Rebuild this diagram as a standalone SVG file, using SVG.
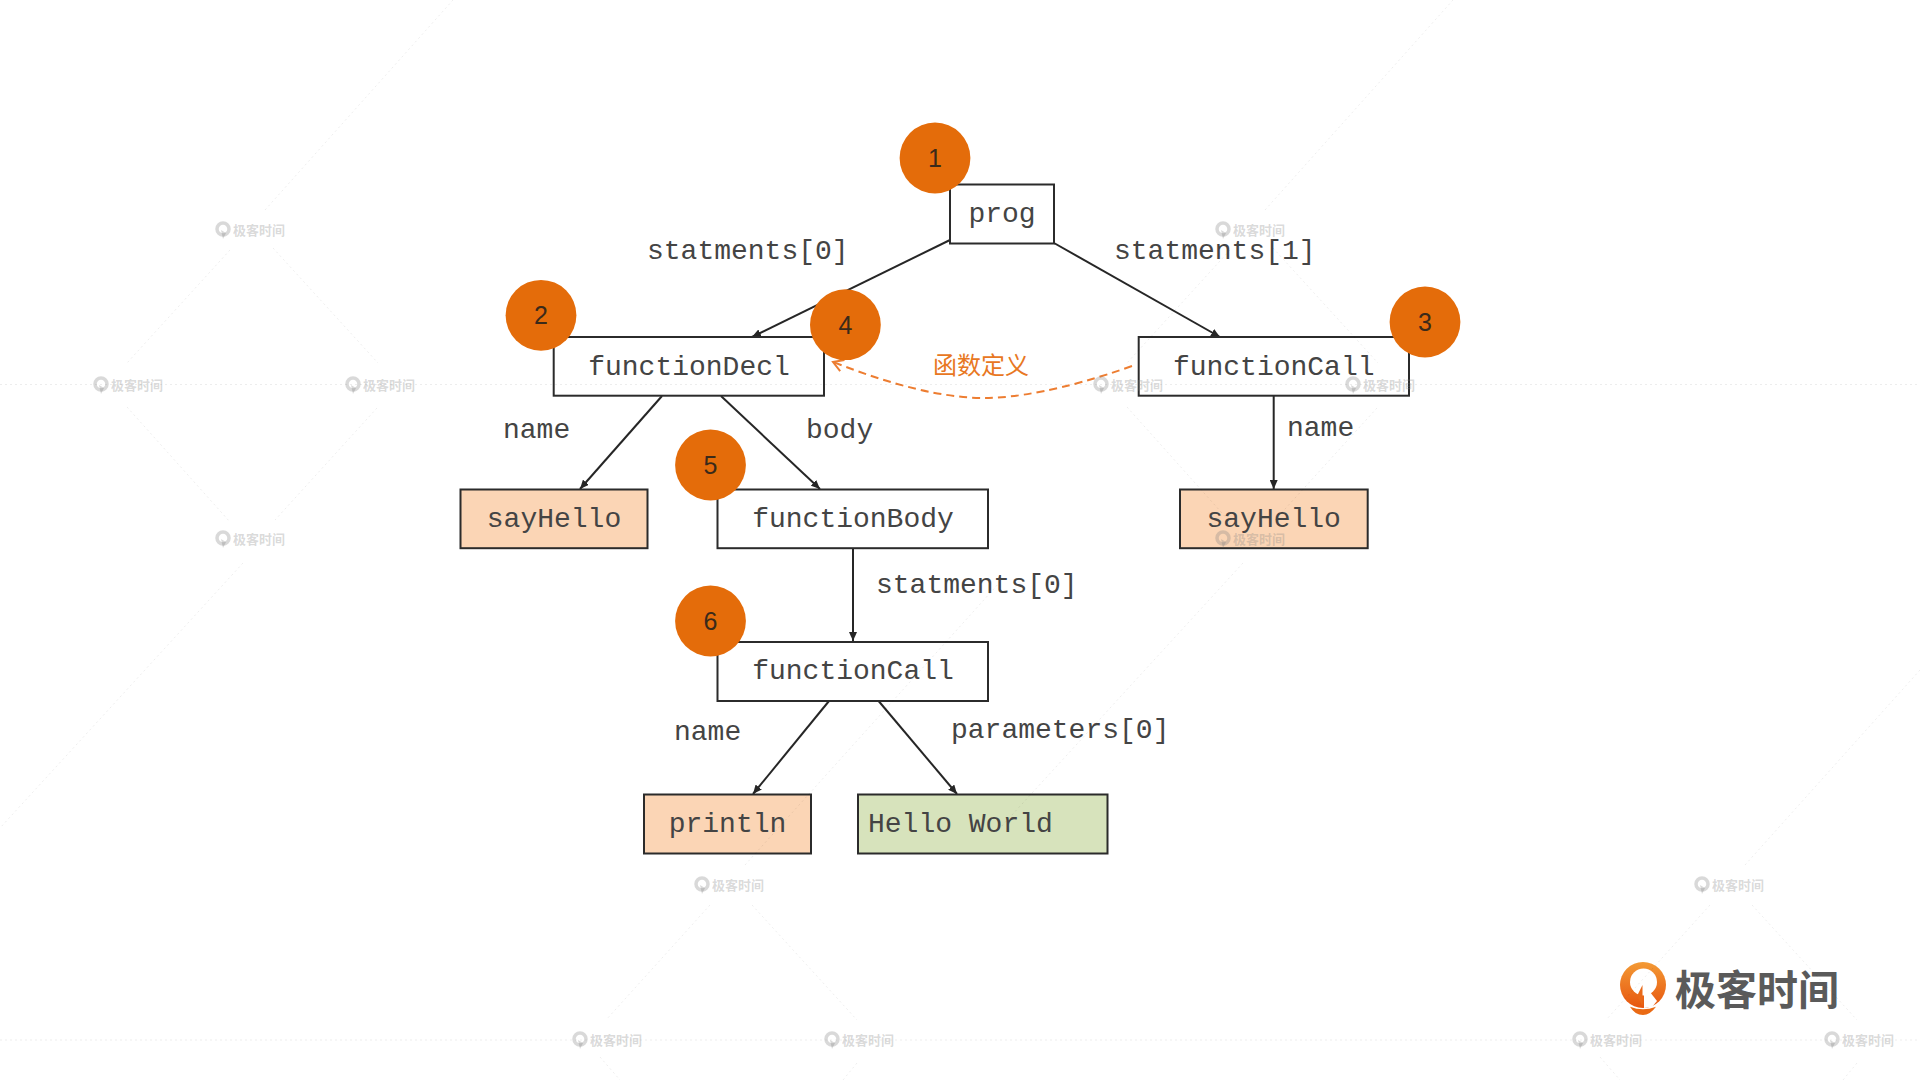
<svg xmlns="http://www.w3.org/2000/svg" width="1920" height="1080" viewBox="0 0 1920 1080">
<style>
.box{stroke:#2b2b2b;stroke-width:2;fill:#fff}
.peach{fill:#fbd5b5}
.green{fill:#d7e3bc}
.t{font-family:"Liberation Mono","Courier New",monospace;font-size:28px;fill:#444}
.m{text-anchor:middle}
.num{font-family:"Liberation Sans",Arial,sans-serif;font-size:25px;fill:#3a2a1a;text-anchor:middle}
.dot{fill:#e46c0a}
.edge{stroke:#262626;stroke-width:2;fill:none;marker-end:url(#arrow)}
.wl{stroke:#000;stroke-opacity:.07;stroke-width:1;stroke-dasharray:2 3;fill:none}
.wt{font-family:"Noto Sans CJK SC",sans-serif;font-size:13px;font-weight:700;fill:#808080;fill-opacity:.3}
.wp{fill:none;stroke:#808080;stroke-opacity:.3;stroke-width:3.5}
</style>
<defs>
<marker id="arrow" markerUnits="userSpaceOnUse" markerWidth="10" markerHeight="8" refX="9" refY="4" orient="auto"><path d="M0 0L9 4L0 8z" fill="#262626"/></marker>
<marker id="open" markerUnits="userSpaceOnUse" markerWidth="14" markerHeight="14" refX="12" refY="7" orient="auto"><path d="M2 1L12 7L2 13" fill="none" stroke="#ed7d31" stroke-width="2"/></marker>
<linearGradient id="lg" x1="0" y1="0" x2="0" y2="1"><stop offset="0" stop-color="#f39a35"/><stop offset="1" stop-color="#e7560f"/></linearGradient>
<g id="pin"><circle cx="0" cy="-1" r="6" class="wp"/><path d="M-2 0L0 9L3 3z" fill="#808080" fill-opacity=".3"/></g>
</defs>
<rect width="1920" height="1080" fill="#fff"/>

<g id="connectors">
<path class="edge" d="M950 240L752 337"/>
<path class="edge" d="M1054 243L1220 337"/>
<path class="edge" d="M662 396L580 489"/>
<path class="edge" d="M721 396L820 489"/>
<path class="edge" d="M1273.7 396V489"/>
<path class="edge" d="M853 548V641"/>
<path class="edge" d="M829 701L753 794"/>
<path class="edge" d="M878.6 701L957 794"/>
<path d="M1132 366C1062 391 1012 398 985 398C940 398 890 384 833 362" fill="none" stroke="#ed7d31" stroke-width="2" stroke-dasharray="8 5" marker-end="url(#open)"/>
</g>

<g id="edge-labels">
<text class="t" x="647" y="259">statments[0]</text>
<text class="t" x="1114" y="259">statments[1]</text>
<text class="t" x="503" y="438">name</text>
<text class="t" x="806" y="438">body</text>
<text class="t" x="1287" y="436">name</text>
<text class="t" x="876" y="593">statments[0]</text>
<text class="t" x="674" y="740">name</text>
<text class="t" x="951" y="738">parameters[0]</text>
<text x="981" y="374" text-anchor="middle" font-family="'Noto Sans CJK SC',sans-serif" font-size="24" fill="#e87722">函数定义</text>
</g>

<g id="node-prog"><rect class="box" x="950" y="184.5" width="104" height="59"/><text class="t m" x="1002" y="222">prog</text></g>
<g id="node-functionDecl"><rect class="box" x="553.7" y="337" width="270.3" height="58.7"/><text class="t m" x="689" y="375">functionDecl</text></g>
<g id="node-functionCall-top"><rect class="box" x="1138.7" y="337" width="270.3" height="58.7"/><text class="t m" x="1273.7" y="375">functionCall</text></g>
<g id="node-sayHello-left"><rect class="box peach" x="460.5" y="489.5" width="187" height="58.7"/><text class="t m" x="554" y="527">sayHello</text></g>
<g id="node-functionBody"><rect class="box" x="717.5" y="489.5" width="270.5" height="58.7"/><text class="t m" x="853" y="527">functionBody</text></g>
<g id="node-sayHello-right"><rect class="box peach" x="1180" y="489.5" width="187.7" height="58.7"/><text class="t m" x="1273.7" y="527">sayHello</text></g>
<g id="node-functionCall-inner"><rect class="box" x="717.5" y="642" width="270.5" height="59"/><text class="t m" x="853" y="678.5">functionCall</text></g>
<g id="node-println"><rect class="box peach" x="644" y="794.5" width="167" height="59"/><text class="t m" x="727.5" y="832">println</text></g>
<g id="node-hello"><rect class="box green" x="858" y="794.5" width="249.5" height="59"/><text class="t" x="868" y="832">Hello World</text></g>

<g id="badge-1"><circle class="dot" cx="935" cy="158" r="35.4"/><text class="num" x="935" y="167">1</text></g>
<g id="badge-2"><circle class="dot" cx="541" cy="315.3" r="35.4"/><text class="num" x="541" y="324">2</text></g>
<g id="badge-3"><circle class="dot" cx="1425" cy="322" r="35.4"/><text class="num" x="1425" y="331">3</text></g>
<g id="badge-4"><circle class="dot" cx="845.4" cy="324.7" r="35.4"/><text class="num" x="845.4" y="333.5">4</text></g>
<g id="badge-5"><circle class="dot" cx="710.5" cy="465" r="35.4"/><text class="num" x="710.5" y="474">5</text></g>
<g id="badge-6"><circle class="dot" cx="710.5" cy="621" r="35.4"/><text class="num" x="710.5" y="630">6</text></g>

<g id="logo">
<circle cx="1643" cy="985" r="23" fill="url(#lg)"/>
<circle cx="1643.5" cy="982" r="13.5" fill="#fff"/>
<path d="M1650 992L1657 1001L1652 1007L1644 1008L1644 985z" fill="#fff"/>
<path d="M1642.5 985L1637 996L1642.5 1006z" fill="#e96a1a"/>
<path d="M1630 1006.7Q1643 1012 1656 1006.7Q1650 1015 1643 1015Q1635 1015 1630 1006.7z" fill="#ea6a14"/>
<text x="1675" y="1005" font-family="'Noto Sans CJK SC',sans-serif" font-size="41" font-weight="700" fill="#5a5a5a">极客时间</text>
</g>

<g id="watermark">
<path class="wl" d="M0 384.5H1920M0 1040H1920"/>
<path class="wl" d="M230 250L127 363M273 248L378 363M127 407L230 522M377 408L275 520M265 210L453 0M243 563L0 828"/>
<path class="wl" d="M1230 250L1127 363M1273 248L1378 363M1127 407L1230 522M1377 408L1275 520M1265 210L1453 0M1243 563L1000 828"/>
<path class="wl" d="M710 905L606 1020M752 905L857 1020M745 865L1000 582M600 1057L620 1080M857 1063L843 1080"/>
<path class="wl" d="M1710 905L1606 1020M1752 905L1857 1020M1745 865L1920 670M1600 1057L1620 1080M1857 1063L1843 1080"/>
<g id="wm-marks">
<use href="#pin" x="223" y="230"/><text class="wt" x="233" y="235">极客时间</text>
<use href="#pin" x="1223" y="230"/><text class="wt" x="1233" y="235">极客时间</text>
<use href="#pin" x="101" y="385"/><text class="wt" x="111" y="390">极客时间</text>
<use href="#pin" x="353" y="385"/><text class="wt" x="363" y="390">极客时间</text>
<use href="#pin" x="1101" y="385"/><text class="wt" x="1111" y="390">极客时间</text>
<use href="#pin" x="1353" y="385"/><text class="wt" x="1363" y="390">极客时间</text>
<use href="#pin" x="223" y="539"/><text class="wt" x="233" y="544">极客时间</text>
<use href="#pin" x="1223" y="539"/><text class="wt" x="1233" y="544">极客时间</text>
<use href="#pin" x="702" y="885"/><text class="wt" x="712" y="890">极客时间</text>
<use href="#pin" x="1702" y="885"/><text class="wt" x="1712" y="890">极客时间</text>
<use href="#pin" x="580" y="1040"/><text class="wt" x="590" y="1045">极客时间</text>
<use href="#pin" x="832" y="1040"/><text class="wt" x="842" y="1045">极客时间</text>
<use href="#pin" x="1580" y="1040"/><text class="wt" x="1590" y="1045">极客时间</text>
<use href="#pin" x="1832" y="1040"/><text class="wt" x="1842" y="1045">极客时间</text>
</g>
</g>
</svg>
